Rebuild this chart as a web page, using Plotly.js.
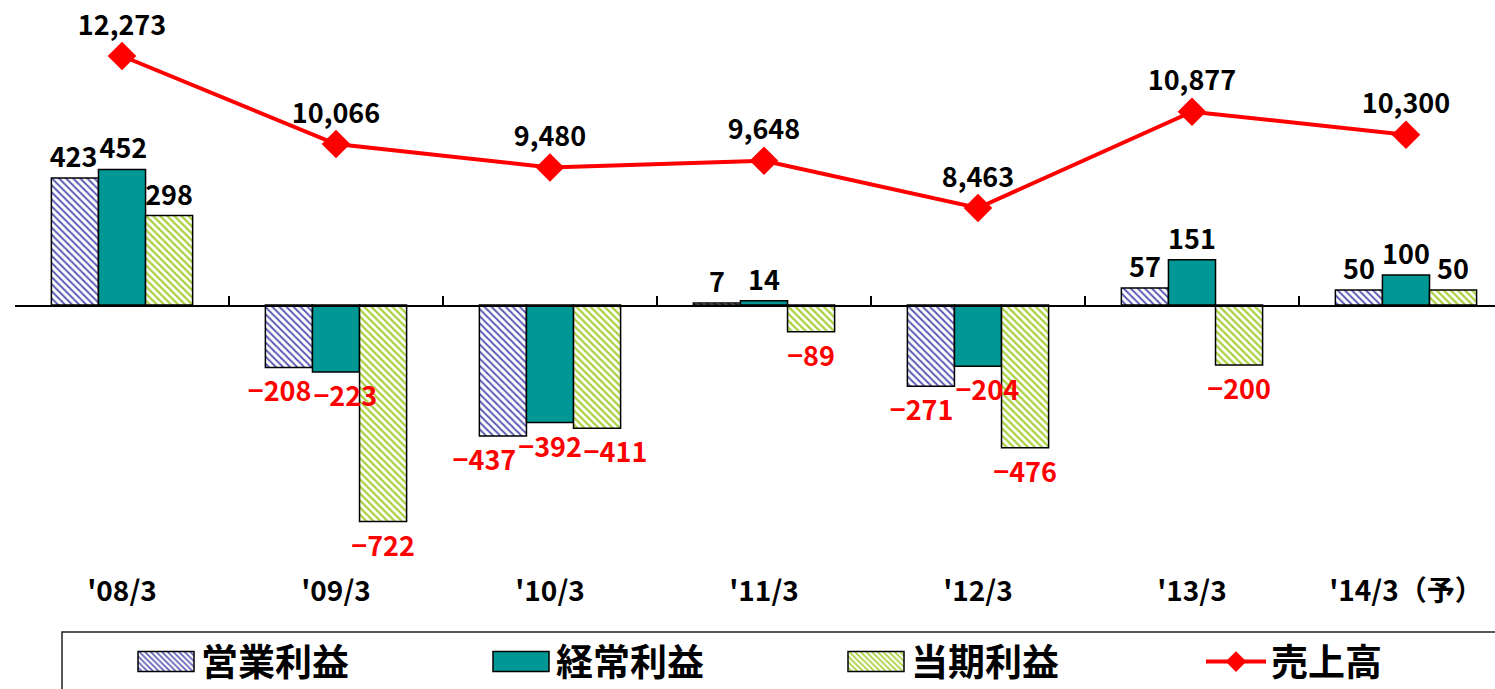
<!DOCTYPE html>
<html>
<head>
<meta charset="utf-8">
<script src="https://cdn.plot.ly/plotly-3.0.1.min.js"></script>
<style>html,body{margin:0;padding:0;background:#fff;}#chart{width:1495px;height:689px;}</style>
</head>
<body>
<div id="chart"></div>
<script>
const categories = ["'08/3", "'09/3", "'10/3", "'11/3", "'12/3", "'13/3", "'14/3（予）"];
const operatingProfit = [423, -208, -437, 7, -271, 57, 50];
const ordinaryProfit = [452, -223, -392, 14, -204, 151, 100];
const netProfit = [298, -722, -411, -89, -476, -200, 50];
const sales = [12273, 10066, 9480, 9648, 8463, 10877, 10300];
const seriesNames = ["営業利益", "経常利益", "当期利益", "売上高"];

const FONT = "Noto Sans CJK JP";
function labelText(arr) { return arr.map(v => v < 0 ? "−" + Math.abs(v) : String(v)); }
function labelColor(arr) { return arr.map(v => v < 0 ? "#ff0000" : "#000000"); }

function barTrace(name, values, marker) {
  return {
    type: "bar", name: name, x: categories, y: values, legend: "legend",
    text: labelText(values), textposition: "outside", constraintext: "none", cliponaxis: false,
    textfont: {family: FONT, size: 27, weight: "bold", color: labelColor(values)},
    marker: marker, hoverinfo: "skip"
  };
}

const traces = [
  barTrace(seriesNames[0], operatingProfit, {color: "#ffffff", line: {color: "#000", width: 1.5},
    pattern: {shape: "\\", fgcolor: "#5a5ab4", bgcolor: "#ffffff", size: 5, solidity: 0.4, fillmode: "replace"}}),
  barTrace(seriesNames[1], ordinaryProfit, {color: "#009894", line: {color: "#000", width: 1.5}}),
  barTrace(seriesNames[2], netProfit, {color: "#ffffff", line: {color: "#000", width: 1.5},
    pattern: {shape: "\\", fgcolor: "#a8d13c", bgcolor: "#ffffff", size: 5, solidity: 0.45, fillmode: "replace"}}),
  {
    type: "scatter", mode: "lines+markers+text", name: seriesNames[3], legend: "legend2",
    x: categories, y: sales, xaxis: "x2", yaxis: "y2",
    line: {color: "#ff0000", width: 4},
    marker: {symbol: "diamond", size: 22, color: "#ff0000"},
    text: sales.map(v => v.toLocaleString("en-US")), textposition: "top center", cliponaxis: false,
    textfont: {family: FONT, size: 27, weight: "bold", color: "#000"}, hoverinfo: "skip"
  }
];

const plotBottom = 572, zeroY = 305, plotLeft = 15, plotW = 1480, H = 689;
const legendY = (H - 662) / H;
const legendFont = {family: FONT, size: 37, weight: "bold", color: "#000"};
const layout = {
  width: 1495, height: H,
  margin: {l: plotLeft, r: 0, t: 0, b: H - plotBottom, pad: 0},
  paper_bgcolor: "#fff", plot_bgcolor: "rgba(0,0,0,0)",
  font: {family: FONT, color: "#000"},
  barmode: "group", bargap: 0.34, bargroupgap: 0,
  showlegend: true,
  xaxis: {type: "category", range: [-0.5, 6.416], showline: false, ticks: "", showgrid: false, zeroline: false,
    tickfont: {family: FONT, size: 28, weight: "bold", color: "#000"}},
  xaxis2: {type: "category", overlaying: "x", anchor: "free", position: (plotBottom - zeroY) / plotBottom,
    range: [-0.5, 6.416], showline: true, linecolor: "#000", linewidth: 1.5,
    ticks: "inside", tickson: "boundaries", ticklen: 9, tickwidth: 1.5, tickcolor: "#000",
    showticklabels: false, showgrid: false, zeroline: false},
  yaxis: {range: [-890, 1016.7], visible: false, showgrid: false, zeroline: false},
  yaxis2: {range: [-661, 13677], overlaying: "y", visible: false, showgrid: false, zeroline: false},
  legend: {orientation: "h", xref: "paper", yref: "container", x: (131 - plotLeft) / plotW, xanchor: "left",
    y: legendY, yanchor: "middle",
    entrywidth: 280, entrywidthmode: "pixels", itemwidth: 60, traceorder: "normal",
    font: legendFont, bgcolor: "rgba(0,0,0,0)", borderwidth: 0},
  legend2: {orientation: "h", xref: "paper", yref: "container", x: (1201 - plotLeft) / plotW, xanchor: "left",
    y: legendY, yanchor: "middle",
    itemwidth: 60, font: legendFont, bgcolor: "rgba(0,0,0,0)", borderwidth: 0},
  shapes: [{type: "rect", xref: "paper", yref: "paper",
    x0: (62 - plotLeft) / plotW, x1: 1.2, y0: (plotBottom - 632) / plotBottom, y1: -0.5,
    line: {color: "#222", width: 1.5}, fillcolor: "rgba(0,0,0,0)"}]
};

function fixLegendSwatches(gd) {
  gd.querySelectorAll(".legendpoints path").forEach(function (p) {
    if (p.classList.contains("legendbar") || p.getAttribute("d") === "M6,6H-6V-6H6Z") {
      p.setAttribute("d", "M28,10H-28V-10H28Z");
    }
  });
}

// Bring bar value labels above all bars, then push apart labels that collide on (nearly) the same row.
function liftBarLabels(gd) {
  if (gd._labelsLifted) return;
  const layer = gd.querySelector(".barlayer");
  if (!layer) return;
  gd._labelsLifted = true;
  const top = document.createElementNS("http://www.w3.org/2000/svg", "g");
  top.setAttribute("class", "bartext-top");
  layer.appendChild(top);
  const texts = Array.from(layer.querySelectorAll("text.bartext"));
  texts.forEach(t => top.appendChild(t));
  const items = texts.map(t => {
    const r = t.getBoundingClientRect();
    return {t: t, l: r.left, r: r.right, cy: (r.top + r.bottom) / 2, dx: 0};
  }).sort((a, b) => a.l - b.l);
  for (let iter = 0; iter < 20; iter++) {
    let moved = false;
    for (let i = 0; i < items.length; i++) {
      for (let j = i + 1; j < items.length; j++) {
        const a = items[i], b = items[j];
        if (Math.abs(a.cy - b.cy) >= 26) continue;
        const overlap = (a.r + a.dx + 2) - (b.l + b.dx);
        if (overlap > 0.5 && (b.r + b.dx) > (a.l + a.dx)) {
          a.dx -= overlap / 2; b.dx += overlap / 2; moved = true;
        }
      }
    }
    if (!moved) break;
  }
  items.forEach(it => {
    if (it.dx) {
      const tr = it.t.getAttribute("transform") || "";
      it.t.setAttribute("transform", "translate(" + it.dx.toFixed(1) + ",0) " + tr);
    }
  });
}

Plotly.newPlot("chart", traces, layout, {staticPlot: true, displayModeBar: false}).then(function (gd) {
  fixLegendSwatches(gd);
  liftBarLabels(gd);
  gd.on("plotly_afterplot", function () { fixLegendSwatches(gd); });
  setTimeout(function () { fixLegendSwatches(gd); }, 50);
});
</script>
</body>
</html>
